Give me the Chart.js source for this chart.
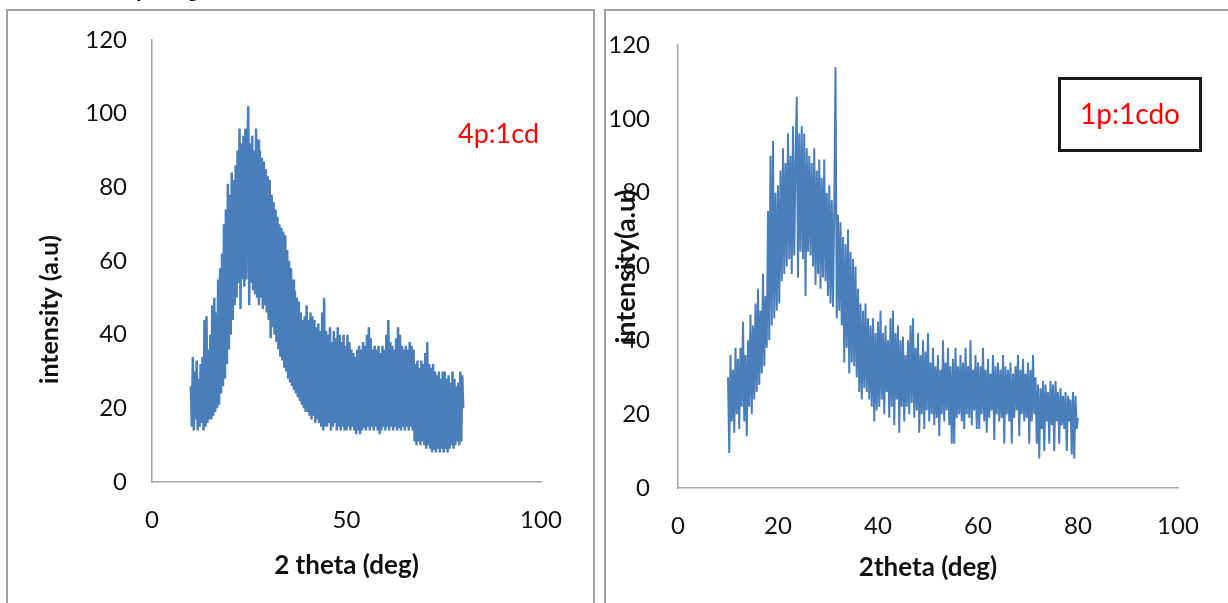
<!DOCTYPE html>
<html>
<head>
<meta charset="utf-8">
<script src="https://cdn.jsdelivr.net/npm/chart.js@4"></script>
<style>
  body { margin: 0; width: 1228px; height: 603px; overflow: hidden; background: #fff; position: relative; }
  .caption { position: absolute; left: -2px; top: -23px; font: 21px "Liberation Serif"; white-space: nowrap; color: #000; }
  .panel { position: absolute; border: 2px solid #a0a0a0; box-sizing: border-box; }
  #panelLeft { left: 6px; top: 9px; width: 589px; height: 600px; }
  #panelRight { left: 604px; top: 9px; width: 640px; height: 600px; }
  canvas { position: absolute; }
  #chartLeft { left: 8px; top: 10px; }
  #chartRight { left: 605px; top: 10px; }
  .tag { position: absolute; color: #ff0000; font: 27px Lato; white-space: nowrap; }
  #tagLeft { left: 458px; top: 116px; line-height: 34px; }
  #tagRight { left: 1058px; top: 77px; width: 144px; height: 75px; box-sizing: border-box; border: 3px solid #1a1a1a; text-align: center; line-height: 66px; font-size: 28px; }
</style>
</head>
<body>
<div class="caption">size calculated by using Scherrer formula and listed in table 3.</div>
<div class="panel" id="panelLeft"></div>
<div class="panel" id="panelRight"></div>
<canvas id="chartLeft" width="584" height="593"></canvas>
<canvas id="chartRight" width="623" height="593"></canvas>
<div class="tag" id="tagLeft">4p:1cd</div>
<div class="tag" id="tagRight">1p:1cdo</div>
<script>
// scan grid: 2 theta from 10 to 80 deg, 0.25 deg step
const scanStart = 10;
const scanStep = 0.25;

// 4p:1cd intensities, one row per 5 deg
const leftIntensity = [
  26,15,34,14,30,17,33,14,28,15,32,16,34,14,44,15,45,16,36,17,
  40,17,48,18,50,19,46,20,55,21,58,24,62,26,70,28,74,32,81,36,
  78,40,84,44,82,48,86,50,90,54,96,47,92,55,94,53,96,55,88,102,
  48,92,54,94,52,90,51,96,50,93,48,90,50,88,47,87,48,85,46,83,
  44,82,39,78,42,76,40,74,38,72,36,70,34,69,33,68,31,67,30,63,
  28,60,27,58,26,55,25,52,24,50,23,49,22,46,21,44,20,45,19,48,
  19,44,18,46,17,45,18,44,16,42,17,43,16,41,15,46,14,50,15,41,
  15,40,16,42,14,38,15,41,16,39,14,42,15,40,14,38,15,40,14,37,
  14,40,15,38,14,36,15,35,14,34,13,36,14,37,13,36,14,38,15,37,
  14,40,15,42,14,39,15,36,14,37,15,36,14,37,13,35,14,37,15,36,
  14,40,15,44,14,38,15,37,14,36,15,39,14,42,15,40,14,37,15,36,
  14,37,15,36,14,38,15,37,14,36,11,32,10,33,11,31,10,33,11,32,
  10,35,9,38,10,32,9,31,8,32,9,30,8,29,9,30,8,28,9,30,
  8,30,9,28,8,29,9,27,10,30,9,28,10,26,11,27,10,30,11,29,
  20
];

// 1p:1cdo intensities, one row per 5 deg
const rightIntensity = [
  30,9.5,36,18,32,15,38,20,35,16,38,22,45,18,36,14,40,22,47,20,
  44,24,50,26,54,28,48,31,58,33,52,38,75,40,90,44,94,46,80,48,
  82,50,86,56,92,58,88,60,96,62,90,58,98,63,88,106,57,96,64,98,
  62,96,52,92,64,90,63,88,60,92,55,86,58,89,54,84,57,89,56,80,
  52,82,50,78,49,76,114,46,74,48,72,44,68,34,66,38,70,31,64,34,
  62,33,60,30,54,26,50,24,48,27,50,26,46,24,44,22,46,18,42,21,
  45,22,48,24,42,20,44,26,40,19,46,22,48,17,42,24,44,15,40,22,
  41,18,36,22,40,20,44,23,46,19,38,21,42,15,36,20,40,16,37,21,
  42,18,34,20,38,17,33,19,36,14,32,20,40,18,34,21,38,17,33,12,
  35,12,38,19,33,20,36,18,34,16,38,20,33,19,40,17,32,21,36,16,
  34,16,33,20,38,18,32,15,35,19,31,21,36,13,33,20,34,18,32,19,
  36,12,33,20,32,18,34,12,31,19,33,21,36,14,32,20,35,18,31,19,
  34,12,32,18,36,20,30,12,28,8,27,16,29,10,28,18,26,12,29,17,
  28,10,29,18,26,12,27,17,25,16,26,10,25,18,24,9,26,8,25,16,
  19
];

const yMax = 120;
const yStep = 20;
const xMax = 100;

function toPoints(values) {
  return values.map((v, i) => ({ x: scanStart + i * scanStep, y: v }));
}

function makeChart(id, values, cfg) {
  const ctx = document.getElementById(id).getContext("2d");
  return new Chart(ctx, {
    type: "line",
    data: {
      datasets: [{
        data: toPoints(values),
        borderColor: "#4a7ebb",
        borderWidth: cfg.lineWidth,
        pointRadius: 0,
        tension: 0,
        fill: false,
      }],
    },
    options: {
      responsive: false,
      animation: false,
      layout: { padding: cfg.padding },
      plugins: { legend: { display: false }, tooltip: { enabled: false } },
      scales: {
        x: {
          type: "linear",
          min: 0,
          max: xMax,
          afterFit: (s) => { s.height = cfg.xHeight; },
          grid: { display: false, drawTicks: false },
          border: { color: "#a6a6a6", width: 1.5 },
          ticks: { stepSize: cfg.xStep, padding: 24, color: "#111", font: { family: "Lato", size: 24 } },
          title: { display: true, text: cfg.xTitle, color: "#111", padding: { top: 0, bottom: cfg.xTitlePad },
                   font: { family: "Lato", size: 26, weight: "bold" } },
        },
        y: {
          min: 0,
          max: yMax,
          // fixed width, and let layout.padding alone set the top of the plot
          afterFit: (s) => { s.width = cfg.yWidth; s.paddingTop = 0; s.paddingBottom = 0; },
          grid: { display: false, drawTicks: false },
          border: { color: "#a6a6a6", width: 1.5 },
          ticks: { stepSize: yStep, padding: cfg.yTickPad, color: "#111", font: { family: "Lato", size: 24 } },
          title: { display: true, text: cfg.yTitle, color: "#111", padding: { top: cfg.yTitlePad, bottom: 0 },
                   font: { family: "Lato", size: cfg.yTitleSize, weight: "bold" } },
        },
      },
    },
  });
}

makeChart("chartLeft", leftIntensity, {
  lineWidth: 2.5,
  padding: { left: 0, top: 30, right: 51, bottom: 0 },
  xHeight: 121, yWidth: 144,
  xStep: 50, yTickPad: 25,
  xTitle: "2 theta (deg)", xTitlePad: 22,
  // trailing spaces push the title lower, like in the original
  yTitle: "intensity (a.u)" + "\u00a0".repeat(16), yTitlePad: 27, yTitleSize: 25,
});

makeChart("chartRight", rightIntensity, {
  lineWidth: 2,
  padding: { left: 0, top: 35, right: 50, bottom: 0 },
  xHeight: 115, yWidth: 73,
  xStep: 20, yTickPad: 28,
  xTitle: "2theta (deg)", xTitlePad: 20,
  yTitle: "intensity(a.u)", yTitlePad: 5, yTitleSize: 27,
});
</script>
</body>
</html>
